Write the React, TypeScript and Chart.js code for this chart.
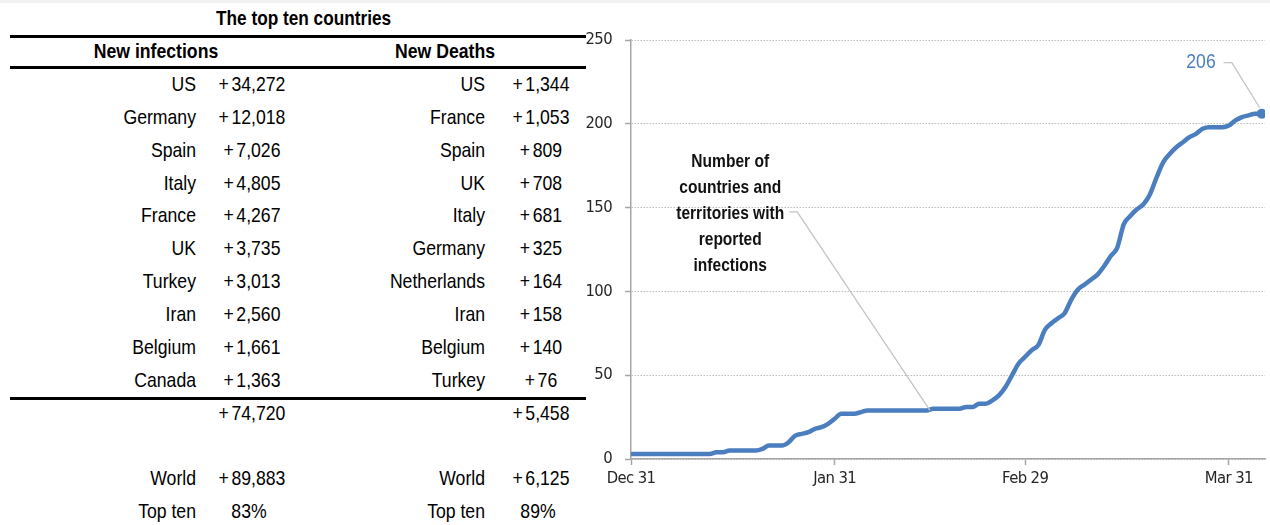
import React, { useEffect, useRef } from "react";
import { Chart, registerables } from "chart.js";

Chart.register(...registerables);

// ---------- data ----------
const infectionCountries = ["US", "Germany", "Spain", "Italy", "France", "UK", "Turkey", "Iran", "Belgium", "Canada"];
const infectionValues = [34272, 12018, 7026, 4805, 4267, 3735, 3013, 2560, 1661, 1363];
const deathCountries = ["US", "France", "Spain", "UK", "Italy", "Germany", "Netherlands", "Iran", "Belgium", "Turkey"];
const deathValues = [1344, 1053, 809, 708, 681, 325, 164, 158, 140, 76];
const topTenTotals = [74720, 5458];
const worldTotals = [89883, 6125];
const topTenShares = ["83%", "89%"];

// number of countries and territories with reported infections, one value per day from Dec 31
const counts = [
  3, 3, 3, 3, 3, 3, 3, 3, 3, 3, 3, 3, 3, // d0-12
  4, 4, // d13-14
  5, 5, 5, 5, 5, // d15-19
  6, 8, 8, 8, // d20-23
  10, 14, 15, 16, 18, 19, 21, 24, 27, 27, 27, 28, // d24-35
  29, 29, 29, 29, 29, 29, 29, 29, 29, 29, // d36-45
  30, 30, 30, 30, 30, // d46-50
  31, 31, 33, 33, 35, 38, 43, 50, 57, // d51-59
  61, 65, 68, 77, 81, 84, 87, 95, 101, 104, // d60-69
  107, 110, 115, 121, 126, 140, 145, 149, 152, 158, // d70-79
  168, 177, 182, 186, 189, 192, 194, 197, 198, 198, // d80-89
  198, 199, 202, 204, 205, 206, 206, // d90-96
];
const xTickDays = [0, 31, 60, 91];
const xTickLabels = ["Dec 31", "Jan 31", "Feb 29", "Mar 31"];
const yTickValues = [0, 50, 100, 150, 200, 250];
const calloutLines = ["Number of", "countries and", "territories with", "reported", "infections"];

// ---------- styles ----------
const TEXT_FONT = '"Liberation Sans", Arial, sans-serif';
const TICK_FONT = '"DejaVu Sans Condensed", "Liberation Sans", sans-serif';
const BLUE = "#4a7ebf";
const AXIS = "#a6a6a6";
const SQUEEZE = 0.84;

const fmtNum = (v: number) => v.toLocaleString("en-US");

type CellProps = {
  text: string;
  y: number;
  right?: number;
  center?: number;
  bold?: boolean;
  size?: number;
  plus?: boolean;
};
function Cell({ text, y, right, center, bold, size = 21, plus }: CellProps) {
  const style: React.CSSProperties = {
    position: "absolute",
    top: y - 15,
    height: 30,
    lineHeight: "30px",
    fontFamily: TEXT_FONT,
    fontSize: size,
    fontWeight: bold ? 700 : 400,
    color: "#000",
    whiteSpace: "nowrap",
    transform: `scaleX(${SQUEEZE})`,
  };
  if (right !== undefined) {
    style.left = 0;
    style.width = right;
    style.textAlign = "right";
    style.transformOrigin = "right center";
  } else {
    style.left = (center as number) - 100;
    style.width = 200;
    style.textAlign = "center";
    style.transformOrigin = "center center";
  }
  return (
    <div style={style}>
      {plus ? <span style={{ marginRight: 3 }}>+</span> : null}
      {text}
    </div>
  );
}

function Rule({ y }: { y: number }) {
  return <div style={{ position: "absolute", left: 10, width: 576, top: y - 1.5, height: 3, background: "#000" }} />;
}

export default function App() {
  const ref = useRef<HTMLCanvasElement>(null);

  useEffect(() => {
    const canvas = ref.current;
    if (!canvas) return;
    const last = counts.length - 1;
    const points = counts.map((v, i) => ({ x: i, y: v }));

    const squeezeText = (ctx: CanvasRenderingContext2D, t: string, x: number, y: number) => {
      ctx.save();
      ctx.translate(x, y);
      ctx.scale(SQUEEZE, 1);
      ctx.fillText(t, 0, 0);
      ctx.restore();
    };

    const tightTicks = {
      id: "tightTicks",
      beforeDraw(chart: any) {
        try {
          (chart.ctx as any).letterSpacing = "-0.6px";
        } catch (e) {}
      },
      afterDraw(chart: any) {
        try {
          (chart.ctx as any).letterSpacing = "0px";
        } catch (e) {}
      },
    };

    const annotations = {
      id: "annotations",
      afterDatasetsDraw(chart: any) {
        const { ctx, scales } = chart;
        const x = scales.x;
        const y = scales.y;
        ctx.save();
        ctx.letterSpacing = "0px";
        // callout leader
        ctx.strokeStyle = "#c4c4c4";
        ctx.lineWidth = 1.3;
        ctx.beginPath();
        const lead: [number, number][] = [
          [24.1, 147.4],
          [25.3, 147.4],
          [45.5, counts[45]],
        ];
        lead.forEach(([dx, dv], i) => {
          const px = x.getPixelForValue(dx);
          const py = y.getPixelForValue(dv);
          if (i === 0) ctx.moveTo(px, py);
          else ctx.lineTo(px, py);
        });
        ctx.stroke();
        // callout text
        ctx.fillStyle = "#111";
        ctx.font = `bold 18.5px ${TEXT_FONT}`;
        ctx.textAlign = "center";
        ctx.textBaseline = "middle";
        const cx = x.getPixelForValue(15.1);
        const cyMid = y.getPixelForValue(146);
        calloutLines.forEach((t, i) => squeezeText(ctx, t, cx, cyMid + (i - 2) * 26));

        // last value label
        const lx = x.getPixelForValue(last);
        const ly = y.getPixelForValue(counts[last]);
        const labelY = y.getPixelForValue(236.5);
        ctx.beginPath();
        ctx.moveTo(x.getPixelForValue(90.2), labelY);
        ctx.lineTo(x.getPixelForValue(91.45), labelY);
        ctx.lineTo(lx - 2, ly - 6);
        ctx.stroke();
        ctx.fillStyle = BLUE;
        ctx.font = `21px ${TEXT_FONT}`;
        ctx.textAlign = "right";
        squeezeText(ctx, String(counts[last]), x.getPixelForValue(89), labelY);
        ctx.restore();
      },
    };

    const tickFont = { family: TICK_FONT, size: 16.5 };
    const chart = new Chart(canvas, {
      type: "line",
      data: {
        datasets: [
          {
            data: points,
            borderColor: BLUE,
            backgroundColor: BLUE,
            borderWidth: 4.5,
            borderCapStyle: "round",
            borderJoinStyle: "round",
            cubicInterpolationMode: "monotone",
            pointRadius: (c: any) => (c.dataIndex === last ? 5 : 0),
            pointBackgroundColor: BLUE,
            pointBorderWidth: 0,
            fill: false,
          } as any,
        ],
      },
      options: {
        animation: false,
        responsive: false,
        layout: { padding: { left: 581, right: 4, top: 40, bottom: 26 } },
        plugins: { legend: { display: false }, tooltip: { enabled: false } },
        scales: {
          x: {
            type: "linear",
            min: 0,
            max: 96.5,
            afterBuildTicks: (s: any) => {
              s.ticks = xTickDays.map((v) => ({ value: v }));
            },
            afterFit: (s: any) => {
              s.height = 40;
            },
            ticks: {
              autoSkip: false,
              maxRotation: 0,
              padding: 4,
              color: "#262626",
              font: tickFont,
              callback: (v: any) => {
                const i = xTickDays.indexOf(Number(v));
                return i >= 0 ? xTickLabels[i] : "";
              },
            },
            grid: { drawOnChartArea: false, drawTicks: true, tickLength: 6, tickColor: AXIS, tickWidth: 1.5 },
            border: { color: AXIS, width: 1.5 },
          },
          y: {
            min: 0,
            max: 250,
            afterBuildTicks: (s: any) => {
              s.ticks = yTickValues.map((v) => ({ value: v }));
            },
            afterFit: (s: any) => {
              s.width = 50;
            },
            ticks: { padding: 13, color: "#262626", font: tickFont },
            grid: { color: "#bdbdbd", lineWidth: 1, tickLength: 6, tickColor: AXIS, tickWidth: 1.5, tickBorderDash: [] },
            border: { color: AXIS, width: 1.5, dash: [1.5, 1.5] },
          },
        },
      } as any,
      plugins: [tightTicks, annotations],
    });
    return () => chart.destroy();
  }, []);

  const rowY = [84, 117, 150, 183, 215, 248, 281, 314, 347, 380];

  return (
    <div style={{ position: "absolute", left: 0, top: 0, width: 1270, height: 525, background: "#fff", overflow: "hidden" }}>
      <div style={{ position: "absolute", left: 0, top: 0, width: 1270, height: 3, background: "#f0f0f0" }} />
      <Cell text="The top ten countries" y={18} center={300} bold size={20.5} />
      <Rule y={36} />
      <Cell text="New infections" y={51} center={156} bold />
      <Cell text="New Deaths" y={51} center={445} bold />
      <Rule y={67} />
      {infectionCountries.map((c, i) => (
        <Cell key={"ic" + i} text={c} y={rowY[i]} right={196} />
      ))}
      {infectionValues.map((v, i) => (
        <Cell key={"iv" + i} text={fmtNum(v)} plus y={rowY[i]} center={252} />
      ))}
      {deathCountries.map((c, i) => (
        <Cell key={"dc" + i} text={c} y={rowY[i]} right={485} />
      ))}
      {deathValues.map((v, i) => (
        <Cell key={"dv" + i} text={fmtNum(v)} plus y={rowY[i]} center={541} />
      ))}
      <Rule y={398} />
      <Cell text={fmtNum(topTenTotals[0])} plus y={413} center={252} />
      <Cell text={fmtNum(topTenTotals[1])} plus y={413} center={541} />
      <Cell text="World" y={478} right={196} />
      <Cell text={fmtNum(worldTotals[0])} plus y={478} center={252} />
      <Cell text="World" y={478} right={485} />
      <Cell text={fmtNum(worldTotals[1])} plus y={478} center={541} />
      <Cell text="Top ten" y={511} right={196} />
      <Cell text={topTenShares[0]} y={511} center={249} />
      <Cell text="Top ten" y={511} right={485} />
      <Cell text={topTenShares[1]} y={511} center={538} />
      <canvas
        ref={ref}
        width={1270}
        height={525}
        style={{ position: "absolute", left: 0, top: 0, width: 1270, height: 525 }}
      />
    </div>
  );
}
